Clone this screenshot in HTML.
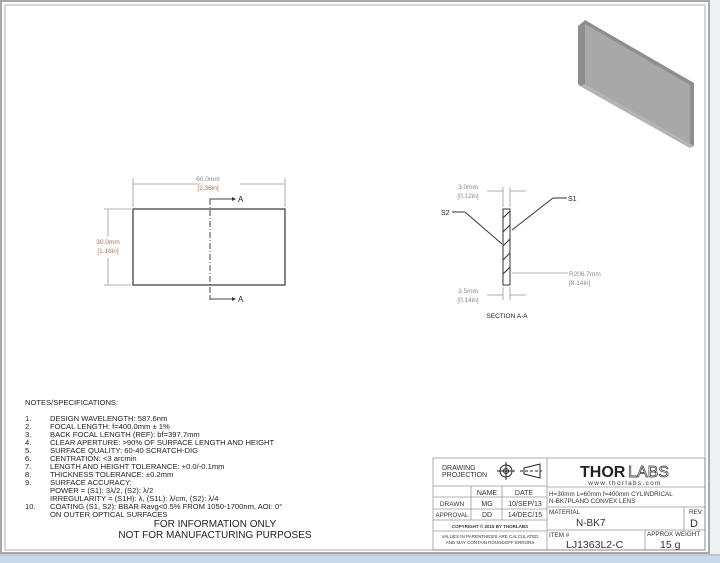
<!DOCTYPE html>
<html><head><meta charset="utf-8"><style>
html,body{margin:0;padding:0;background:#fff;}
svg{display:block;font-family:"Liberation Sans",sans-serif;}
</style></head><body>
<svg width="720" height="563" viewBox="0 0 720 563" xmlns="http://www.w3.org/2000/svg">
<rect x="0" y="0" width="720" height="563" fill="#ffffff"/>
<rect x="709" y="0" width="11" height="556" fill="#eef0f3"/>
<rect x="0" y="556" width="720" height="7" fill="#c9d9ea"/>
<line x1="0" y1="555" x2="720" y2="555" fill="none" stroke="#8a97a6" stroke-width="1"/>
<rect x="1" y="1" width="708" height="552" fill="none" stroke="#a8a8a8" stroke-width="2"/>
<rect x="5" y="5" width="700" height="545" fill="none" stroke="#c8c8c8" stroke-width="1.5"/>

<!-- 3D render -->
<polygon points="583,22 585,20 694,83 694,146 690,148 580,86 578,84 578,26" fill="#8e8e8e"/>
<polygon points="585,24 690,85 690,146 585,85" fill="#a8a8a8"/>
<polygon points="580,86 690,148 694,146 585,84" fill="#b4b4b4"/>

<!-- front view -->
<g stroke="#444" fill="none">
<rect x="133" y="209" width="152" height="76" stroke-width="1.3"/>
<line x1="210" y1="199" x2="210" y2="300" stroke-dasharray="6,2,1,2" stroke-width="1"/>
<polyline points="210,204 210,199 232,199" stroke-width="1"/>
<polyline points="210,296 210,299 232,299" stroke-width="1"/>
</g>
<polygon points="232,197 236,199 232,201" fill="#333"/>
<polygon points="232,297 236,299 232,301" fill="#333"/>
<text x="238" y="202" font-size="8" fill="#222">A</text>
<text x="238" y="302" font-size="8" fill="#222">A</text>
<g stroke="#999" stroke-width="0.8" fill="none">
<line x1="133" y1="178" x2="133" y2="207"/><line x1="285" y1="178" x2="285" y2="207"/>
<line x1="133" y1="184" x2="200" y2="184"/><line x1="240" y1="184" x2="285" y2="184"/>
<line x1="104" y1="209" x2="131" y2="209"/><line x1="104" y1="285" x2="131" y2="285"/>
<line x1="108" y1="209" x2="108" y2="237"/><line x1="108" y1="258" x2="108" y2="285"/>
</g>
<text x="208" y="181" font-size="6.5" fill="#888" text-anchor="middle">60.0mm</text>
<text x="208" y="190" font-size="6.5" fill="#b07050" text-anchor="middle">[2.36in]</text>
<text x="108" y="244" font-size="6.5" fill="#b07050" text-anchor="middle">30.0mm</text>
<text x="108" y="253" font-size="6.5" fill="#b07050" text-anchor="middle">[1.18in]</text>

<!-- section -->
<g stroke="#333" fill="none" stroke-width="1">
<rect x="503" y="209" width="7" height="76"/>
<line x1="503" y1="218" x2="510" y2="211"/><line x1="503" y1="232" x2="510" y2="225"/>
<line x1="503" y1="246" x2="510" y2="239"/><line x1="503" y1="260" x2="510" y2="253"/>
<line x1="503" y1="274" x2="510" y2="267"/>
<line x1="452" y1="212" x2="465" y2="212"/><line x1="465" y1="212" x2="502" y2="244"/>
<line x1="567" y1="198" x2="553" y2="198"/><line x1="553" y1="198" x2="512" y2="230"/>
</g>
<g stroke="#999" stroke-width="0.8" fill="none">
<line x1="503" y1="187" x2="503" y2="207"/><line x1="510" y1="187" x2="510" y2="207"/>
<line x1="487" y1="191" x2="503" y2="191"/><line x1="510" y1="191" x2="526" y2="191"/>
<line x1="503" y1="287" x2="503" y2="300"/><line x1="510" y1="287" x2="510" y2="300"/>
<line x1="487" y1="295" x2="503" y2="295"/><line x1="510" y1="295" x2="526" y2="295"/>
<line x1="512" y1="273" x2="568" y2="273"/>
</g>
<text x="468" y="189" font-size="6.5" fill="#888" text-anchor="middle">3.0mm</text>
<text x="468" y="198" font-size="6.5" fill="#888" text-anchor="middle">[0.12in]</text>
<text x="468" y="293" font-size="6.5" fill="#888" text-anchor="middle">3.5mm</text>
<text x="468" y="302" font-size="6.5" fill="#888" text-anchor="middle">[0.14in]</text>
<text x="569" y="276" font-size="6.5" fill="#888">R206.7mm</text>
<text x="569" y="285" font-size="6.5" fill="#888">[8.14in]</text>
<text x="441" y="215" font-size="7" fill="#222">S2</text>
<text x="568" y="201" font-size="7" fill="#222">S1</text>
<text x="507" y="318" font-size="6.5" fill="#222" text-anchor="middle">SECTION A-A</text>

<!-- notes -->
<g font-size="7.6" fill="#222">
<text x="25" y="405">NOTES/SPECIFICATIONS:</text>
<text x="25" y="421">1.</text><text x="50" y="421">DESIGN WAVELENGTH: 587.6nm</text>
<text x="25" y="429">2.</text><text x="50" y="429">FOCAL LENGTH: f=400.0mm ± 1%</text>
<text x="25" y="437">3.</text><text x="50" y="437">BACK FOCAL LENGTH (REF): bf=397.7mm</text>
<text x="25" y="445">4.</text><text x="50" y="445">CLEAR APERTURE: &gt;90% OF SURFACE LENGTH AND HEIGHT</text>
<text x="25" y="453">5.</text><text x="50" y="453">SURFACE QUALITY: 60-40 SCRATCH-DIG</text>
<text x="25" y="461">6.</text><text x="50" y="461">CENTRATION: &lt;3 arcmin</text>
<text x="25" y="469">7.</text><text x="50" y="469">LENGTH AND HEIGHT TOLERANCE: +0.0/-0.1mm</text>
<text x="25" y="477">8.</text><text x="50" y="477">THICKNESS TOLERANCE: ±0.2mm</text>
<text x="25" y="485">9.</text><text x="50" y="485">SURFACE ACCURACY:</text>
<text x="50" y="493">POWER = (S1): 3λ/2, (S2): λ/2</text>
<text x="50" y="501">IRREGULARITY = (S1H): λ, (S1L): λ/cm, (S2): λ/4</text>
<text x="25" y="509">10.</text><text x="50" y="509">COATING (S1, S2): BBAR Ravg&lt;0.5% FROM 1050-1700nm, AOI: 0°</text>
<text x="50" y="517">ON OUTER OPTICAL SURFACES</text>
</g>
<text x="215" y="527" font-size="10" fill="#222" text-anchor="middle">FOR INFORMATION ONLY</text>
<text x="215" y="538" font-size="10" fill="#222" text-anchor="middle">NOT FOR MANUFACTURING PURPOSES</text>

<!-- title block -->
<g stroke="#999" stroke-width="0.8" fill="none">
<rect x="433" y="458" width="272" height="92"/>
<line x1="547" y1="458" x2="547" y2="550"/>
<line x1="433" y1="486" x2="547" y2="486"/>
<line x1="433" y1="497" x2="547" y2="497"/>
<line x1="433" y1="509" x2="547" y2="509"/>
<line x1="433" y1="520" x2="547" y2="520"/>
<line x1="433" y1="531" x2="547" y2="531"/>
<line x1="471" y1="486" x2="471" y2="520"/>
<line x1="502" y1="486" x2="502" y2="520"/>
<line x1="547" y1="487" x2="705" y2="487"/>
<line x1="547" y1="507" x2="705" y2="507"/>
<line x1="547" y1="530" x2="705" y2="530"/>
<line x1="684" y1="507" x2="684" y2="530"/>
<line x1="645" y1="530" x2="645" y2="550"/>
</g>
<g stroke="#222" stroke-width="1" fill="none">
<circle cx="506" cy="471" r="6"/><circle cx="506" cy="471" r="2.5"/>
<line x1="497" y1="471" x2="515" y2="471"/><line x1="506" y1="462" x2="506" y2="480"/>
<polygon points="524,468 540,464 540,478 524,474"/>
<line x1="520" y1="471" x2="542" y2="471" stroke-dasharray="3,2"/>
</g>
<circle cx="506" cy="471" r="1" fill="#222"/>
<g fill="#333">
<text x="442" y="470" font-size="7">DRAWING</text>
<text x="442" y="477" font-size="7">PROJECTION</text>
<text x="487" y="495" font-size="7" text-anchor="middle">NAME</text>
<text x="524" y="495" font-size="7" text-anchor="middle">DATE</text>
<text x="452" y="506" font-size="6.5" text-anchor="middle">DRAWN</text>
<text x="487" y="506" font-size="7" text-anchor="middle">MG</text>
<text x="525" y="506" font-size="7" text-anchor="middle">10/SEP/13</text>
<text x="452" y="517" font-size="6.2" text-anchor="middle">APPROVAL</text>
<text x="487" y="517" font-size="7" text-anchor="middle">DD</text>
<text x="525" y="517" font-size="7" text-anchor="middle">14/DEC/15</text>
<text x="490" y="528" font-size="4.5" font-weight="bold" text-anchor="middle">COPYRIGHT © 2015 BY THORLABS</text>
<text x="490" y="538" font-size="4.5" text-anchor="middle">VALUES IN PARENTHESIS ARE CALCULATED</text>
<text x="490" y="544" font-size="4.5" text-anchor="middle">AND MAY CONTAIN ROUNDOFF ERRORS</text>
<text x="580" y="477" font-size="16" font-weight="bold" fill="#222">THOR</text><text x="628" y="477" font-size="16" fill="none" stroke="#333" stroke-width="0.7">LABS</text>
<text x="625" y="485" font-size="6.5" text-anchor="middle" letter-spacing="1.3">www.thorlabs.com</text>
<text x="549" y="496" font-size="6.3">H=30mm L=60mm f=400mm CYLINDRICAL</text>
<text x="549" y="503" font-size="6.3">N-BK7PLANO CONVEX LENS</text>
<text x="549" y="514" font-size="6.3">MATERIAL</text>
<text x="576" y="526" font-size="10">N-BK7</text>
<text x="689" y="514" font-size="6.3">REV</text>
<text x="690" y="527" font-size="11">D</text>
<text x="549" y="537" font-size="6.3">ITEM #</text>
<text x="566" y="548" font-size="10.5">LJ1363L2-C</text>
<text x="647" y="536" font-size="6.3">APPROX WEIGHT</text>
<text x="660" y="548" font-size="10.5">15 g</text>
</g>
</svg>
</body></html>
